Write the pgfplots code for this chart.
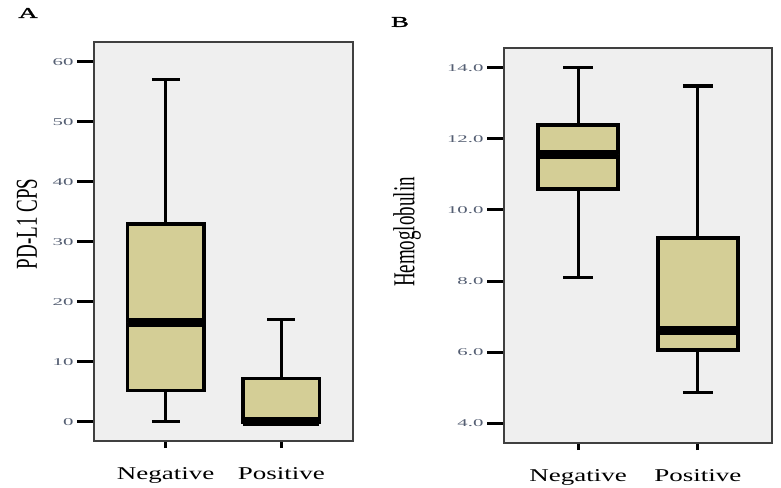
\documentclass[border=0pt]{standalone}
\usepackage{fontspec}
\setmainfont{Liberation Serif}
\newfontfamily\tickfont[FakeStretch=2.0]{Liberation Serif}
\newfontfamily\catfont[FakeStretch=1.5]{Liberation Serif}
\newfontfamily\panelfont[FakeStretch=1.8,FakeBold=1.5]{Liberation Serif}
\usepackage{pgfplots}
\pgfplotsset{compat=1.18}
\usepgfplotslibrary{statistics}

\definecolor{panelbg}{RGB}{239,239,239}
\definecolor{boxfill}{RGB}{212,206,150}
\definecolor{tickcol}{RGB}{85,95,115}

\pgfplotsset{
  spss/.style={
    scale only axis,
    anchor=south west,
    xmin=0.38, xmax=2.62,
    xtick={1,2},
    xticklabels={Negative,Positive},
    axis background/.style={fill=panelbg},
    axis line style={draw=black!75, line width=1.2pt},
    tick align=outside,
    tick pos=left,
    major tick length=17pt,
    xtick style={/pgfplots/major tick length=7pt},
    tick style={black, line width=3pt},
    /pgf/number format/assume math mode=true,
    yticklabel style={font=\tickfont\fontsize{10.4}{12}\selectfont, text=tickcol},
    xticklabel style={font=\catfont\fontsize{18}{20}\selectfont, yshift=-6pt},
    boxplot/draw direction=y,
    boxplot/every median/.style={line width=9pt},
    boxplot/every whisker/.style={line width=3.2pt},
    boxplot/every box/.style={line width=3.6pt},
    clip=false,
  },
  sbox/.style={draw=black, fill=boxfill, line width=3.6pt},
}

\begin{document}
\begin{tikzpicture}
\useasboundingbox (0,0) rectangle (781pt,487pt);

\node[font=\panelfont\fontsize{15}{16}\selectfont] at (28pt,474pt) {A};
\node[font=\panelfont\fontsize{15}{16}\selectfont] at (400pt,465pt) {B};

% panel A: PD-L1 CPS
\begin{axis}[spss,
    at={(94pt,46pt)}, width=259pt, height=399pt,
    ymin=-3.2, ymax=63.3,
    ytick={0,10,...,60},
    ylabel={\scalebox{1}[1.6]{\fontsize{19}{20}\selectfont PD-L1 CPS}},
    every axis y label/.style={at={(axis description cs:0,0.544)}, xshift=-67pt, rotate=90, anchor=center},
    boxplot/box extend=0.66,
    boxplot/whisker extend=0.24,
]
\addplot[sbox, boxplot prepared={draw position=1,
    lower whisker=0, lower quartile=5.2, median=16.6,
    upper quartile=33, upper whisker=57}] coordinates {};
\addplot[sbox, boxplot prepared={draw position=2,
    lower whisker=0, lower quartile=0, median=0.1,
    upper quartile=7.2, upper whisker=17}] coordinates {};
\end{axis}

% panel B: Hemoglobulin
\begin{axis}[spss,
    at={(504pt,44pt)}, width=268pt, height=395pt,
    ymin=3.44, ymax=14.56,
    ytick={4,6,...,14},
    yticklabel style={/pgf/number format/.cd, fixed, fixed zerofill, precision=1},
    ylabel={\scalebox{1}[1.6]{\fontsize{19}{20}\selectfont Hemoglobulin}},
    every axis y label/.style={at={(axis description cs:0,0.534)}, xshift=-97pt, rotate=90, anchor=center},
    boxplot/box extend=0.67,
    boxplot/whisker extend=0.25,
]
\addplot[sbox, boxplot prepared={draw position=1,
    lower whisker=8.11, lower quartile=10.59, median=11.55,
    upper quartile=12.39, upper whisker=14.0}] coordinates {};
\addplot[sbox, boxplot prepared={draw position=2,
    lower whisker=4.87, lower quartile=6.06, median=6.62,
    upper quartile=9.21, upper whisker=13.49}] coordinates {};
\end{axis}
\end{tikzpicture}
\end{document}
